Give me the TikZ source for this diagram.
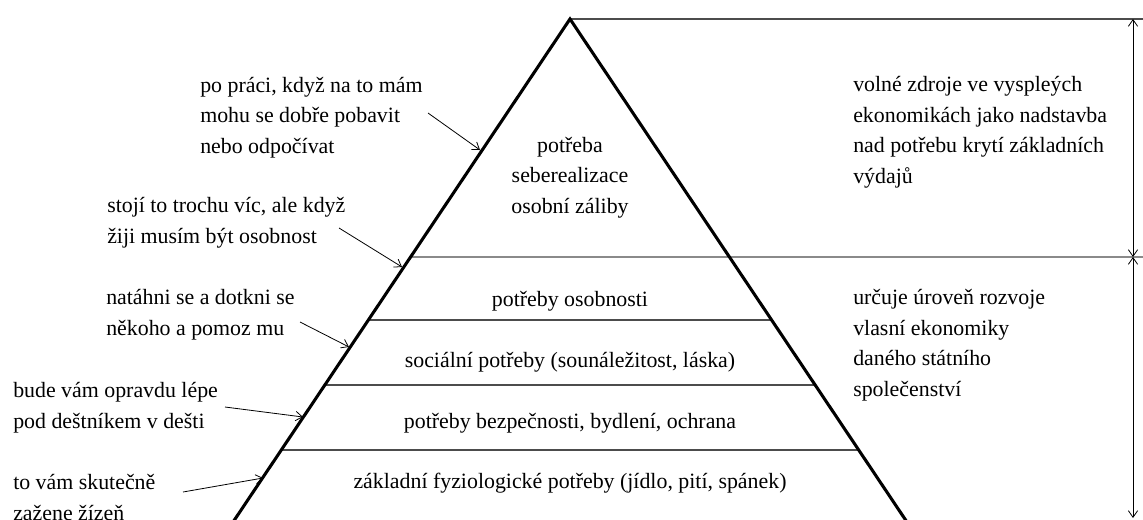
\documentclass[tikz,border=0pt]{standalone}
\usepackage{fontspec}
\setmainfont{Liberation Serif}
\usetikzlibrary{calc,arrows.meta}

\begin{document}
\begin{tikzpicture}[
x=0.75pt,y=-0.75pt,
txt/.style={
  font=\fontsize{16.4}{22.8}\selectfont,
  inner sep=0pt,
  align=left,
  anchor=base west
},
lvl/.style={
  font=\fontsize{16.4}{22.8}\selectfont,
  inner sep=0pt,
  align=center,
  anchor=base
},
side/.style={
  line width=2.3pt
},
level/.style={
  draw=black!70,
  line width=1.1pt
},
hint/.style={
  line width=0.6pt,
  -{Straight Barb[length=5pt,width=7pt]}
},
span/.style={
  line width=0.6pt,
  {Straight Barb[length=5pt,width=7pt]}-{Straight Barb[length=5pt,width=7pt]}
}
]
\useasboundingbox (0,0) rectangle (1143,519);
\clip (0,0) rectangle (1143,519);

% pyramid
\coordinate (top) at (570,19);
\coordinate (lb) at (221,540);
\coordinate (rb) at (919,540);
\coordinate (e0) at (1143,19);
\coordinate (e1) at (1143,257);
\coordinate (l1) at ($(top)!0.4568!(lb)$);
\coordinate (l2) at ($(top)!0.5777!(lb)$);
\coordinate (r2) at ($(top)!0.5777!(rb)$);
\coordinate (l3) at ($(top)!0.7025!(lb)$);
\coordinate (r3) at ($(top)!0.7025!(rb)$);
\coordinate (l4) at ($(top)!0.8273!(lb)$);
\coordinate (r4) at ($(top)!0.8273!(rb)$);

\draw[level] (top) -- (e0);
\draw[level] (l1) -- (e1);
\draw[level] (l2) -- (r2);
\draw[level] (l3) -- (r3);
\draw[level] (l4) -- (r4);
\draw[side] (lb) -- (top) -- (rb);

% levels (base = last line)
\node[lvl] (c1) at (570,213) {potřeba\\seberealizace\\osobní záliby};
\node[lvl] (c2) at (570,306) {potřeby osobnosti};
\node[lvl] (c3) at (570,367) {sociální potřeby (sounáležitost, láska)};
\node[lvl] (c4) at (570,428) {potřeby bezpečnosti, bydlení, ochrana};
\node[lvl] (c5) at (570,488) {základní fyziologické potřeby (jídlo, pití, spánek)};

% notes left
\node[txt] (n1) at (200,153) {po práci, když na to mám\\mohu se dobře pobavit\\nebo odpočívat};
\node[txt] (n2) at (107,243) {stojí to trochu víc, ale když\\žiji musím být osobnost};
\node[txt] (n3) at (106,335) {natáhni se a dotkni se\\někoho a pomoz mu};
\node[txt] (n4) at (13,428) {bude vám opravdu lépe\\pod deštníkem v dešti};
\node[txt] (n5) at (13,520) {to vám skutečně\\zažene žízeň};

\coordinate (s1) at (428,113);
\coordinate (t1) at (480,150);
\coordinate (s2) at (339,228);
\coordinate (t2) at (402,267);
\coordinate (s3) at (300,322);
\coordinate (t3) at (349,347);
\coordinate (s4) at (225,407);
\coordinate (t4) at (303,417);
\coordinate (s5) at (183,492);
\coordinate (t5) at (263,478);
\draw[hint] (s1) -- (t1);
\draw[hint] (s2) -- (t2);
\draw[hint] (s3) -- (t3);
\draw[hint] (s4) -- (t4);
\draw[hint] (s5) -- (t5);

% notes right
\node[txt] (m1) at (853,183) {volné zdroje ve vyspleých\\ekonomikách jako nadstavba\\nad potřebu krytí základních\\výdajů};
\node[txt] (m2) at (853,396) {určuje úroveň rozvoje\\vlasní ekonomiky\\daného státního\\společenství};

\coordinate (a0) at (1133,19);
\coordinate (a1) at (1133,257);
\coordinate (a2) at (1133,518);
\draw[span] (a0) -- (a1);
\draw[span] (a1) -- (a2);
\end{tikzpicture}
\end{document}
